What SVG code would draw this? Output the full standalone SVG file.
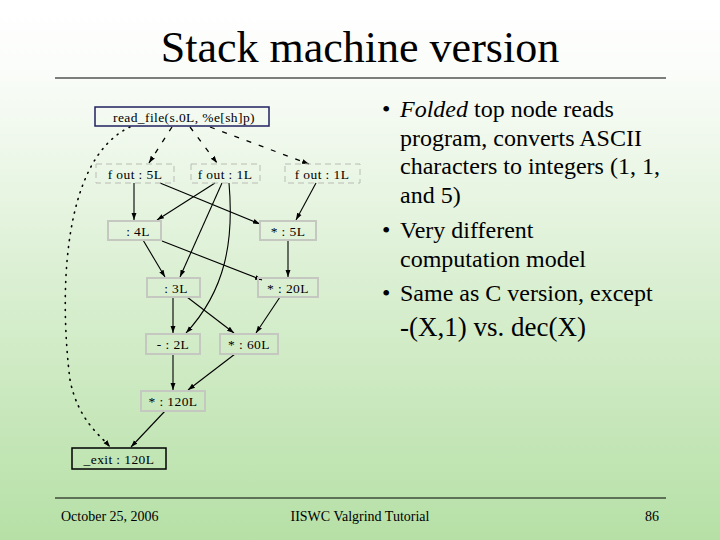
<svg xmlns="http://www.w3.org/2000/svg" width="720" height="540" viewBox="0 0 720 540">
<defs>
<linearGradient id="bg" x1="0" y1="0" x2="0" y2="1">
<stop offset="0" stop-color="#ffffff"/>
<stop offset="0.12" stop-color="#fbfdfa"/>
<stop offset="0.5" stop-color="#dcf0d4"/>
<stop offset="1" stop-color="#b6e0a6"/>
</linearGradient>
<marker id="ah" viewBox="0 0 10 10" refX="10" refY="5" markerWidth="7" markerHeight="7" orient="auto" markerUnits="userSpaceOnUse">
<path d="M0,1.5 L10,5 L0,8.5 z" fill="#000"/>
</marker>
<style>
.t{font-family:"Liberation Serif","Times New Roman",serif;fill:#000}
.nt{font-family:"Liberation Serif","Times New Roman",serif;font-size:13.5px;letter-spacing:0.4px;fill:#000;text-anchor:middle}
.g{fill:none;stroke:#c4c8c0;stroke-width:2}
.gd{fill:none;stroke:#b8bcb4;stroke-width:1;stroke-dasharray:6,4}
.e{fill:none;stroke:#000;stroke-width:1.1;marker-end:url(#ah)}
.ed{fill:none;stroke:#000;stroke-width:1.3;stroke-dasharray:5,8;marker-end:url(#ah)}
.eo{fill:none;stroke:#000;stroke-width:1.6;stroke-dasharray:1,6;stroke-linecap:round;marker-end:url(#ah)}
.b{font-size:24px}
</style>
</defs>
<rect width="720" height="540" fill="url(#bg)"/>
<text class="t" x="360" y="62" font-size="44" text-anchor="middle">Stack machine version</text>
<line x1="55" y1="78" x2="666" y2="78" stroke="#000" stroke-width="1"/>
<line x1="55" y1="498" x2="666" y2="498" stroke="#000" stroke-width="1"/>
<text class="t" x="61" y="521" font-size="14">October 25, 2006</text>
<text class="t" x="360" y="521" font-size="14" text-anchor="middle">IISWC Valgrind Tutorial</text>
<text class="t" x="659" y="521" font-size="14" text-anchor="end">86</text>

<g id="bullets">
<text class="t b" x="382" y="117">•</text>
<text class="t b" x="400" y="117"><tspan font-style="italic">Folded</tspan> top node reads</text>
<text class="t b" x="400" y="146">program, converts ASCII</text>
<text class="t b" x="400" y="174">characters to integers (1, 1,</text>
<text class="t b" x="400" y="203">and 5)</text>
<text class="t b" x="382" y="238">•</text>
<text class="t b" x="400" y="238">Very different</text>
<text class="t b" x="400" y="267">computation model</text>
<text class="t b" x="382" y="301">•</text>
<text class="t b" x="400" y="301">Same as C version, except</text>
<text class="t" x="400" y="336" font-size="27">-(X,1) vs. dec(X)</text>
</g>

<g id="connectors">
<path class="ed" d="M172,127 L149,163"/>
<path class="ed" d="M190,127 L217,163"/>
<path class="ed" d="M210,127 L309,164"/>
<path class="eo" d="M130,127 C60,160 60,300 70,380 C78,420 100,435 110,447"/>
<path class="e" d="M134,183 L134,220"/>
<path class="e" d="M160,183 L260,224"/>
<path class="e" d="M215,183 L157,220"/>
<path class="e" d="M222,183 L180,277"/>
<path class="e" d="M229,183 C234,240 226,290 186,333"/>
<path class="e" d="M316,183 L296,220"/>
<path class="e" d="M143,240 L165,277"/>
<path class="e" d="M162,241 L262,280"/>
<path class="e" d="M288,240 L288,277"/>
<path class="e" d="M173,297 L173,333"/>
<path class="e" d="M187,297 L234,333"/>
<path class="e" d="M280,297 L256,333"/>
<path class="e" d="M173,354 L173,390"/>
<path class="e" d="M235,354 L188,390"/>
<path class="e" d="M165,411 L131,447"/>
</g>

<g id="n_read"><rect x="95" y="107" width="174" height="19" fill="none" stroke="#202060" stroke-width="1.5"/><text class="nt" x="184" y="122">read_file(s.0L, %e[sh]p)</text></g>
<g id="n_fout5"><rect class="gd" x="96" y="164" width="78" height="19"/><text class="nt" x="135" y="179">f out : 5L</text></g>
<g id="n_fout1a"><rect class="gd" x="191" y="164" width="69" height="19"/><text class="nt" x="225" y="179">f out : 1L</text></g>
<g id="n_fout1b"><rect class="gd" x="285" y="164" width="75" height="19"/><text class="nt" x="322" y="179">f out : 1L</text></g>
<g id="n_4"><rect class="g" x="108" y="221" width="53" height="19"/><text class="nt" x="138" y="236">: 4L</text></g>
<g id="n_m5"><rect class="g" x="260" y="221" width="56" height="19"/><text class="nt" x="288" y="236">* : 5L</text></g>
<g id="n_3"><rect class="g" x="147" y="278" width="53" height="19"/><text class="nt" x="176" y="293">: 3L</text></g>
<g id="n_m20"><rect class="g" x="258" y="278" width="60" height="19"/><text class="nt" x="288" y="293">* : 20L</text></g>
<g id="n_2"><rect class="g" x="146" y="334" width="54" height="20"/><text class="nt" x="173" y="349">- : 2L</text></g>
<g id="n_m60"><rect class="g" x="220" y="334" width="58" height="20"/><text class="nt" x="249" y="349">* : 60L</text></g>
<g id="n_m120"><rect class="g" x="141" y="391" width="64" height="20"/><text class="nt" x="173" y="406">* : 120L</text></g>
<g id="n_exit"><rect x="72" y="448" width="94" height="21" fill="none" stroke="#000" stroke-width="1.5"/><text class="nt" x="119" y="464">_exit : 120L</text></g>
</svg>
